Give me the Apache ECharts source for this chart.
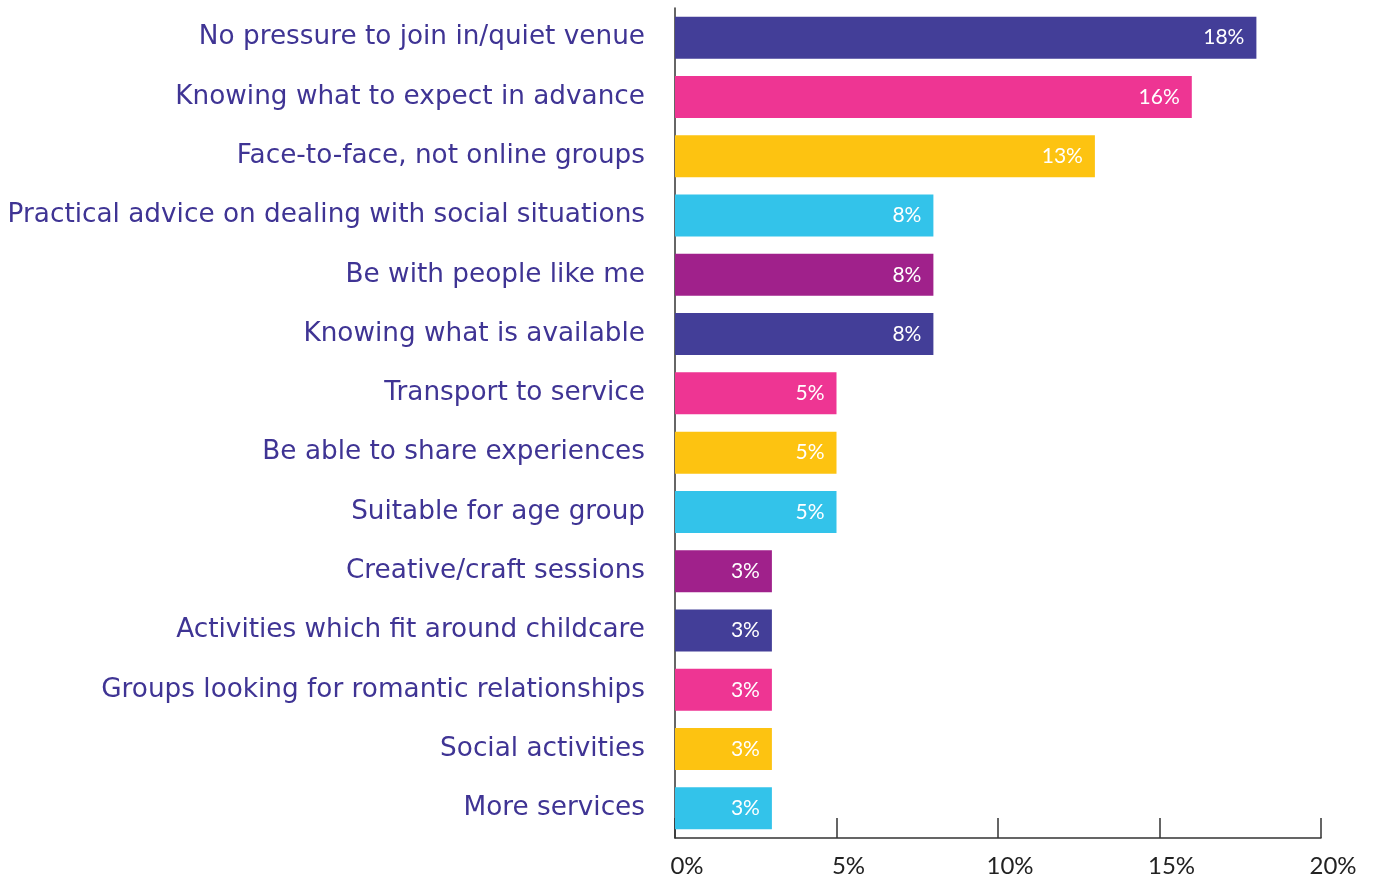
<!DOCTYPE html>
<html>
<head>
<meta charset="utf-8">
<script src="https://cdn.jsdelivr.net/npm/echarts@6/dist/echarts.min.js"></script>
<style>
  html, body { margin: 0; padding: 0; background: #ffffff; }
  #chart { width: 1376px; height: 875px; }
</style>
</head>
<body>
<div id="chart"></div>
<script>
// What would help people take part in social activities (% of responses)
const categories = [
  'No pressure to join in/quiet venue',
  'Knowing what to expect in advance',
  'Face-to-face, not online groups',
  'Practical advice on dealing with social situations',
  'Be with people like me',
  'Knowing what is available',
  'Transport to service',
  'Be able to share experiences',
  'Suitable for age group',
  'Creative/craft sessions',
  'Activities which fit around childcare',
  'Groups looking for romantic relationships',
  'Social activities',
  'More services'
];
const values = [18, 16, 13, 8, 8, 8, 5, 5, 5, 3, 3, 3, 3, 3];
const barColors = ['#433e98', '#ee3593', '#fdc311', '#33c3ea', '#a0218b', '#433e98', '#ee3593',
                   '#fdc311', '#33c3ea', '#a0218b', '#433e98', '#ee3593', '#fdc311', '#33c3ea'];
const xTicks = [0, 5, 10, 15, 20];

const chart = echarts.init(document.getElementById('chart'), null, { renderer: 'canvas' });
chart.setOption({
  animation: false,
  backgroundColor: '#ffffff',
  grid: { left: 675, right: 55, top: 8, bottom: 37, containLabel: false, outerBoundsMode: 'none' },
  xAxis: {
    type: 'value',
    min: xTicks[0],
    max: xTicks[xTicks.length - 1],
    interval: 5,
    splitLine: { show: false },
    axisLine: { show: true, lineStyle: { color: '#333333', width: 1.5 } },
    axisTick: { show: true, inside: true, length: 20, lineStyle: { color: '#333333', width: 1.5 } },
    axisLabel: {
      formatter: '{value}%',
      color: '#222222',
      fontFamily: 'Lato',
      fontSize: 24,
      margin: 16,
      padding: [0, 0, 0, 24]
    }
  },
  yAxis: {
    type: 'category',
    inverse: true,
    data: categories,
    axisLine: { show: true, lineStyle: { color: '#333333', width: 1.5 } },
    axisTick: { show: false },
    axisLabel: {
      color: '#3f3494',
      fontFamily: 'DejaVu Sans',
      fontWeight: 'normal',
      fontSize: 26.3,
      margin: 30
    }
  },
  series: [{
    type: 'bar',
    barWidth: 42,
    data: values.map((v, i) => ({ value: v, itemStyle: { color: barColors[i] } })),
    label: {
      show: true,
      position: 'insideRight',
      distance: 12,
      formatter: '{c}%',
      color: '#ffffff',
      fontFamily: 'Lato',
      fontSize: 21
    }
  }]
});
</script>
</body>
</html>
